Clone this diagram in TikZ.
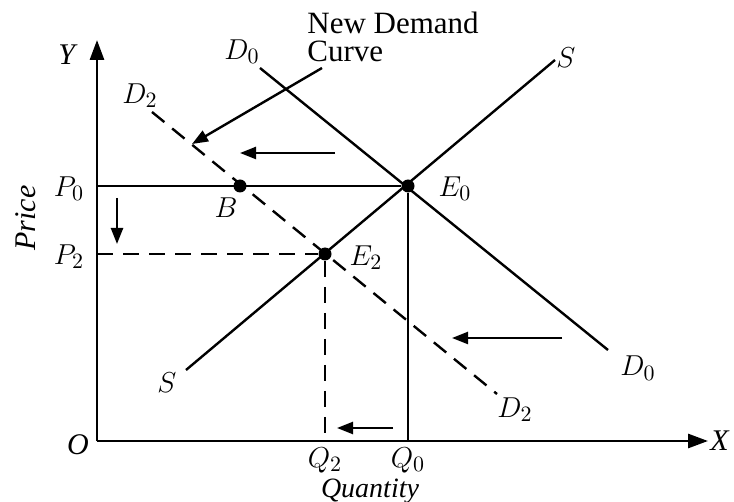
\documentclass[tikz,border=0pt]{standalone}
\usepackage{fontspec}
\setmainfont{Liberation Serif}
\usepackage{tikz}
\usetikzlibrary{arrows.meta}

\begin{document}
\begin{tikzpicture}[
    x=0.5pt, y=-0.5pt,
    font=\fontsize{15}{15}\selectfont,
    axis/.style={line width=1.4pt, -{Triangle[length=10pt, width=7pt]}},
    curve/.style={line width=1.2pt},
    dashcurve/.style={line width=1.2pt, dash pattern=on 8pt off 5pt},
    movearrow/.style={line width=1.2pt, -{Triangle[length=8pt, width=6pt]}},
    dot/.style={circle, fill, inner sep=0pt, minimum size=6.5pt},
    lbl/.style={inner sep=1pt}
]
\useasboundingbox (0,0) rectangle (734,502);

% axes
\coordinate (O) at (97,441);
\coordinate (ytop) at (97,40);
\coordinate (xend) at (708,441);
\draw[axis] (O) -- (ytop);
\draw[axis] (O) -- (xend);
\node[lbl] (Ylbl) at (68,55) {\textit{Y}};
\node[lbl] (Xlbl) at (720,441) {\textit{X}};
\node[lbl] (Olbl) at (78,445) {\textit{O}};
\node[lbl, rotate=90] (price) at (26,218) {\textit{Price}};
\node[lbl, inner sep=0pt, font=\fontsize{14}{14}\selectfont] (quantity) at (370,491) {\textit{Quantity}};

% equilibrium points
\node[dot] (E0) at (408,186) {};
\node[dot] (E2) at (325,254) {};
\node[dot] (B) at (240,186) {};

% curve end points
\coordinate (D0a) at (260,68);
\coordinate (D0b) at (608,350);
\coordinate (Sa) at (186,370);
\coordinate (Sb) at (555,60);
\coordinate (D2a) at (152,112);
\coordinate (D2b) at (497,394);

% levels on the axes
\coordinate (P0) at (97,186);
\coordinate (P2) at (97,254);
\coordinate (Q0) at (408,441);
\coordinate (Q2) at (325,441);

% curves
\draw[curve] (D0a) -- (D0b);
\draw[curve] (Sa) -- (Sb);
\draw[dashcurve] (D2a) -- (D2b);

% guide lines
\draw[curve] (P0) -- (E0);
\draw[curve] (E0) -- (Q0);
\draw[dashcurve] (P2) -- (E2);
\draw[dashcurve] (E2) -- (Q2);

% curve labels
\node[lbl] (D0top) at (242,52) {$D_0$};
\node[lbl] (D0bot) at (638,368) {$D_0$};
\node[lbl] (D2top) at (140,96) {$D_2$};
\node[lbl] (D2bot) at (515,410) {$D_2$};
\node[lbl] (Stop) at (566,58) {$S$};
\node[lbl] (Sbot) at (167,383) {$S$};
\node[lbl] (E0lbl) at (455,189) {$E_0$};
\node[lbl] (E2lbl) at (366,258) {$E_2$};
\node[lbl] (Blbl) at (226,208) {$B$};
\node[lbl] (P0lbl) at (69,189) {$P_0$};
\node[lbl] (P2lbl) at (69,257) {$P_2$};
\node[lbl, inner sep=0pt] (Q2lbl) at (325,460) {$Q_2$};
\node[lbl, inner sep=0pt] (Q0lbl) at (408,460) {$Q_0$};

% new demand curve note
\node[lbl, align=left, anchor=north west, font=\fontsize{15.5}{14}\selectfont] (newd) at (305,10) {New Demand\\Curve};
\coordinate (ndtail) at (322,68);
\coordinate (ndtip) at (192,144);
\draw[movearrow] (ndtail) -- (ndtip);

% shift arrows
\coordinate (a1s) at (335,153);
\coordinate (a1e) at (240,153);
\coordinate (a2s) at (562,338);
\coordinate (a2e) at (452,338);
\coordinate (a3s) at (393,428);
\coordinate (a3e) at (337,428);
\coordinate (a4s) at (117,198);
\coordinate (a4e) at (117,244);
\draw[movearrow] (a1s) -- (a1e);
\draw[movearrow] (a2s) -- (a2e);
\draw[movearrow] (a3s) -- (a3e);
\draw[movearrow] (a4s) -- (a4e);
\end{tikzpicture}
\end{document}
